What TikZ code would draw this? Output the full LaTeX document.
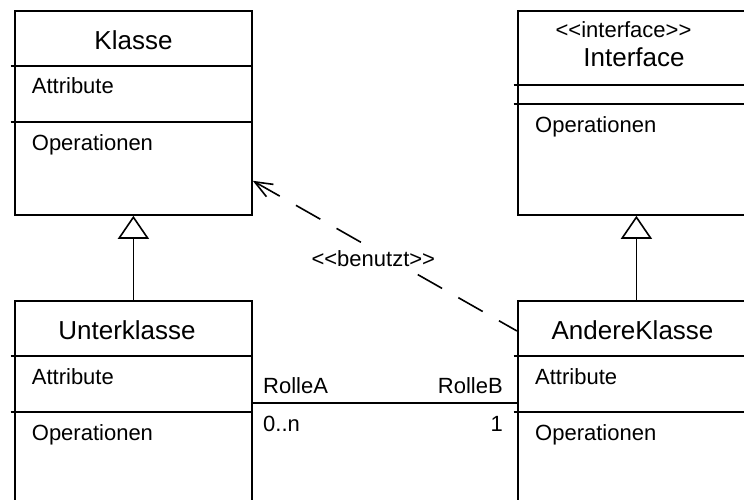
\documentclass[tikz,border=0pt]{standalone}
\usepackage{fontspec}
\setmainfont{Liberation Sans}
\usetikzlibrary{arrows.meta,calc}
% double angle brackets kept as two separate characters
\newcommand{\stereoOpen}{<\kern0pt<}
\newcommand{\stereoClose}{>\kern0pt>}

\begin{document}
\begin{tikzpicture}[x=1pt,y=-1pt,
  classbox/.style={draw, line width=1.8pt, rectangle, inner sep=0pt,
    anchor=north west, minimum width=237pt},
  divider/.style={line width=1.7pt},
  conn/.style={line width=1.6pt},
  title/.style={font=\fontsize{26}{31}\selectfont, inner sep=0pt, anchor=base},
  stereo/.style={font=\fontsize{22}{26}\selectfont, inner sep=0pt, anchor=base},
  member/.style={font=\fontsize{22}{26}\selectfont, inner sep=0pt, anchor=base west},
  rolelabel/.style={font=\fontsize{22}{26}\selectfont, inner sep=0pt},
  inherit/.style={conn, -{Triangle[open, length=23pt, width=31pt, fill=white]}},
  uses/.style={conn, dash pattern=on 28pt off 18.7pt,
    {Straight Barb[length=17.6pt, width=14.2pt]}-}
]
\useasboundingbox (0,0) rectangle (744,500);
\clip (0,0) rectangle (744,500);

% class boxes
\node[classbox, minimum height=204pt] (klasse) at (14,10) {};
\node[classbox, minimum height=204pt] (interface) at (517,10) {};
\node[classbox, minimum height=220pt] (unterklasse) at (14,300) {};
\node[classbox, minimum height=220pt] (andere) at (517,300) {};

% compartment lines
\foreach \b/\ya/\yb in {klasse/56/112, interface/75/94, unterklasse/56/112, andere/56/112} {
  \draw[divider] ([xshift=-3.5pt,yshift=-\ya pt]\b.north west) -- ([yshift=-\ya pt]\b.north east);
  \draw[divider] ([xshift=-3.5pt,yshift=-\yb pt]\b.north west) -- ([yshift=-\yb pt]\b.north east);
}

% Klasse
\node[title]  (klasseName) at (133.5,50) {Klasse};
\node[member] (klasseAttr) at (31.7,94) {Attribute};
\node[member] (klasseOps)  at (31.7,150) {Operationen};

% Interface
\node[stereo] (ifaceStereo) at (623.5,38) {\stereoOpen interface\stereoClose};
\node[title]  (ifaceName)   at (634,67) {Interface};
\node[member] (ifaceOps)    at (535,132) {Operationen};

% Unterklasse
\node[title]  (unterName) at (127,339) {Unterklasse};
\node[member] (unterAttr) at (31.7,384) {Attribute};
\node[member] (unterOps)  at (31.7,440) {Operationen};

% AndereKlasse
\node[title]  (andereName) at (632.5,339) {AndereKlasse};
\node[member] (andereAttr) at (535,384) {Attribute};
\node[member] (andereOps)  at (535,440) {Operationen};

% generalisation / realisation
\draw[inherit] (unterklasse.north) -- (klasse.south);
\draw[inherit] (andere.north) -- (interface.south);

% dependency
\coordinate (usesTip)  at ([yshift=35pt]klasse.south east);
\coordinate (usesTail) at ([yshift=-31pt]andere.north west);
\draw[uses] (usesTip) -- (usesTail);
\node[stereo, fill=white, inner sep=3pt] (usesLabel) at (373.3,266.7) {\stereoOpen benutzt\stereoClose};

% association
\draw[conn] ([yshift=-102.7pt]unterklasse.north east) -- ([yshift=-102.7pt]andere.north west);
\node[rolelabel, anchor=base west] (roleA) at (263,393) {RolleA};
\node[rolelabel, anchor=base east] (roleB) at (503,393) {RolleB};
\node[rolelabel, anchor=base west] (multA) at (263,431) {0..n};
\node[rolelabel, anchor=base east] (multB) at (503,431) {1};
\end{tikzpicture}
\end{document}
